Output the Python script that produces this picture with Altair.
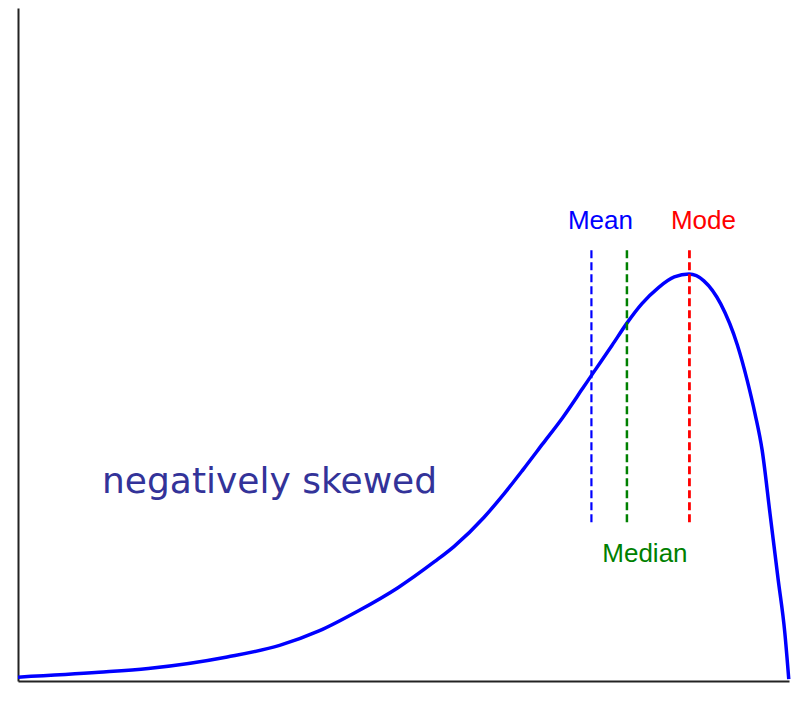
import altair as alt
import pandas as pd

# Curve (x in arbitrary units 0-10, density-like y)
curve_x = [0.000, 1.049, 1.688, 2.711, 3.389, 3.900, 4.412, 4.923, 5.396, 5.652, 6.036,
           6.292, 6.547, 6.803, 7.059, 7.315, 7.442, 7.698, 7.890, 8.082, 8.299, 8.504,
           8.696, 8.887, 9.105, 9.322, 9.450, 9.552, 9.642, 9.744, 9.847, 9.936, 9.987]
curve_y = [0.004, 0.009, 0.013, 0.025, 0.037, 0.052, 0.073, 0.097, 0.124, 0.140, 0.170,
           0.194, 0.220, 0.247, 0.274, 0.304, 0.319, 0.349, 0.372, 0.392, 0.409, 0.420,
           0.423, 0.416, 0.392, 0.349, 0.312, 0.277, 0.240, 0.174, 0.107, 0.050, 0.002]

stat_names = ["Mean", "Median", "Mode"]
stat_x = [7.43, 7.89, 8.70]
line_top = 0.449
line_bottom = 0.165

# styles (kept apart from the data)
stat_colors = ["#0000ff", "#008000", "#ff0000"]
stat_widths = [2.2, 2.8, 2.8]

curve = pd.DataFrame({"x": curve_x, "y": curve_y})
stats = pd.DataFrame({"name": stat_names, "x": stat_x})
stats["y1"] = line_bottom
stats["y2"] = line_top

xs = alt.Scale(domain=[0, 9.99], nice=False, zero=False)
ys = alt.Scale(domain=[0, 0.6996], nice=False, zero=True)
cscale = alt.Scale(domain=stat_names, range=stat_colors)
wscale = alt.Scale(domain=stat_names, range=stat_widths)

axis_style = dict(domain=True, ticks=False, labels=False, grid=False, title=None,
                  domainColor="#222222", domainWidth=2)

base_curve = alt.Chart(curve).mark_line(
    color="#0000ff", strokeWidth=3.5, interpolate="monotone"
).encode(
    x=alt.X("x:Q", scale=xs, axis=alt.Axis(**axis_style)),
    y=alt.Y("y:Q", scale=ys, axis=alt.Axis(**axis_style)),
)

rules = alt.Chart(stats).mark_rule(strokeDash=[8, 4]).encode(
    x="x:Q",
    y="y1:Q",
    y2="y2:Q",
    color=alt.Color("name:N", scale=cscale, legend=None),
    strokeWidth=alt.StrokeWidth("name:N", scale=wscale, legend=None),
)

font = "Liberation Sans"


def label(name, dx, ypix):
    return alt.Chart(stats).transform_filter(
        alt.datum.name == name
    ).mark_text(font=font, fontSize=26, baseline="alphabetic", align="center", dx=dx).encode(
        x="x:Q",
        y=alt.value(ypix),
        text="name:N",
        color=alt.Color("name:N", scale=cscale, legend=None),
    )


mean_lbl = label("Mean", 9, 221)
mode_lbl = label("Mode", 14, 221)
median_lbl = label("Median", 18, 554)

title_text = alt.Chart(pd.DataFrame({"t": ["negatively skewed"]})).mark_text(
    font="DejaVu Sans", fontSize=36, color="#333399", align="left", baseline="alphabetic"
).encode(
    x=alt.value(84),
    y=alt.value(485),
    text="t:N",
)

chart = alt.layer(base_curve, rules, mean_lbl, mode_lbl, median_lbl, title_text).properties(
    width=771, height=673,
    padding={"left": 3, "top": 0, "right": 0, "bottom": 0},
).configure(background="white").configure_view(stroke=None)

chart.save("out.html", embed_options={"renderer": "svg", "actions": False})
